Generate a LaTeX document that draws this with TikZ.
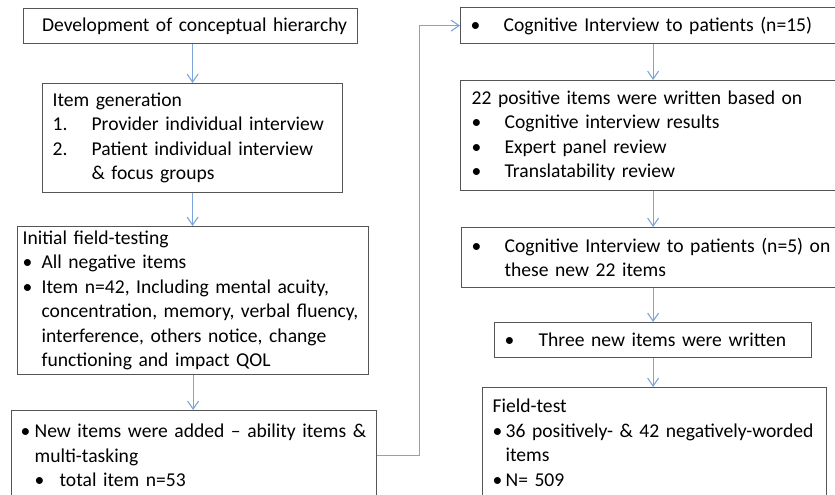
\documentclass[tikz,border=0pt]{standalone}
\usepackage{fontspec}
\setmainfont{Carlito}
\usetikzlibrary{arrows.meta}
\definecolor{boxgray}{RGB}{85,85,85}
\definecolor{linkblue}{RGB}{125,165,215}
% bullet (or number) in a box of given width, then the item text
\newcommand{\bul}[1]{\makebox[#1][l]{\textbullet}}
\newcommand{\num}[2]{\makebox[#1][l]{#2}}

\begin{document}
\begin{tikzpicture}
		[x=1pt, y=-1pt,
			block/.style ={rectangle, draw=boxgray, line width=1.2pt, anchor=north west, align=left, inner ysep=1pt, font=\fontsize{19.6}{24.5}\selectfont},
 line/.style ={draw=linkblue, line width=1.1pt, -{Straight Barb[length=8pt,width=11pt]}}]
		\clip (0,0) rectangle (835,495);
		% left column
		\path 	(23,8) node[block, align=center, inner xsep=10pt, text width=314pt, minimum height=35pt] (dev) {\hspace*{8pt}Development of conceptual hierarchy}
			(42,83) node[block, inner xsep=10pt, text width=280pt, minimum height=109pt] (gen) {Item generation\\
				\num{39pt}{1.}Provider individual interview\\
				\num{39pt}{2.}Patient individual interview\\
				\hspace*{39pt}\& focus groups}
			(17,226) node[block, inner xsep=5pt, text width=341pt, minimum height=148pt] (init) {Initial field-testing\\
				\bul{19pt}All negative items\\
				\bul{19pt}Item n=42, Including mental acuity,\\
				\hspace*{19pt}\mbox{concentration, memory, verbal fluency,}\\
				\hspace*{19pt}interference, others notice, change\\
				\hspace*{19pt}functioning and impact QOL}
			(11,410) node[block, inner xsep=9pt, text width=347pt, minimum height=90pt] (added) {\bul{14pt}\mbox{New items were added -- ability items \&}\\
				\hspace*{14pt}multi-tasking\\
				\hspace*{14pt}\bul{25pt}total item n=53};
		% right column
		\path 	(460,7) node[block, inner xsep=10pt, text width=400pt, minimum height=36pt] (cog) {\bul{33pt}Cognitive Interview to patients (n=15)}
			(460,80) node[block, inner xsep=11pt, text width=398pt, minimum height=110pt] (pos) {22 positive items were written based on\\
				\bul{33pt}Cognitive interview results\\
				\bul{33pt}Expert panel review\\
				\bul{33pt}Translatability review}
			(461,227) node[block, inner xsep=10pt, text width=400pt, minimum height=60pt] (cognew) {\bul{33pt}Cognitive Interview to patients (n=5) on\\
				\hspace*{33pt}these new 22 items}
			(494,322) node[block, inner xsep=10pt, text width=297pt, minimum height=35pt] (three) {\bul{34pt}Three new items were written}
			(482,387) node[block, inner xsep=10pt, text width=324pt, minimum height=110pt] (field) {Field-test\\
				\bul{13pt}\mbox{36 positively- \& 42 negatively-worded}\\
				\hspace*{13pt}items\\
				\bul{13pt}N= 509};
		% arrows
		\draw[line] (dev.south -| gen.north) -- (gen.north);
		\draw[line] (gen.south) -- (init.north -| gen.south);
		\draw[line] (init.south) -- (added.north -| init.south);
		\draw[line] (added.east) -- ++(42,0) |- (cog.west);
		\draw[line] (cog.south -| three.north) -- (pos.north -| three.north);
		\draw[line] (pos.south -| three.north) -- (cognew.north -| three.north);
		\draw[line] (cognew.south -| three.north) -- (three.north);
		\draw[line] (three.south) -- (field.north -| three.south);
	\end{tikzpicture}
\end{document}
